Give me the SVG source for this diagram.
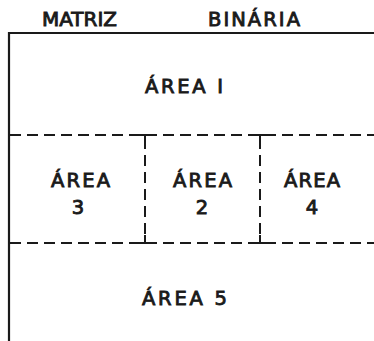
<svg xmlns="http://www.w3.org/2000/svg" width="374" height="341" viewBox="0 0 374 341">
  <style>
    .frame { fill: none; stroke: #1a1a1a; stroke-width: 2.2; }
    .dash { fill: none; stroke: #1a1a1a; stroke-width: 2; stroke-dasharray: 11 6; }
    .tick { fill: none; stroke: #1a1a1a; stroke-width: 2; }
    .lbl { font-family: "DejaVu Sans", "Liberation Sans", sans-serif; font-size: 19.5px; fill: #1a1a1a; stroke: #1a1a1a; stroke-width: 0.9; }
  </style>
  <rect width="374" height="341" fill="#ffffff"/>

  <!-- column headings -->
  <g id="headings">
    <text class="lbl" x="42" y="26" textLength="75" lengthAdjust="spacingAndGlyphs">MATRIZ</text>
    <text class="lbl" x="208" y="26" textLength="92" lengthAdjust="spacing">BINÁRIA</text>
  </g>

  <!-- outer frame and dashed partitions -->
  <g id="connectors">
    <path class="frame" d="M9,341 V33 H374"/>
    <line class="dash" x1="10" y1="135" x2="374" y2="135"/>
    <line class="dash" x1="10" y1="243" x2="374" y2="243"/>
    <line class="dash" x1="145" y1="138" x2="145" y2="240" stroke-dasharray="12 6"/>
    <line class="dash" x1="260" y1="138" x2="260" y2="240" stroke-dasharray="12 6"/>
    <line class="tick" x1="140" y1="135" x2="150" y2="135"/>
    <line class="tick" x1="140" y1="243" x2="150" y2="243"/>
    <line class="tick" x1="255" y1="135" x2="265" y2="135"/>
    <line class="tick" x1="255" y1="243" x2="265" y2="243"/>
    <line class="tick" x1="145" y1="135" x2="145" y2="143"/>
    <line class="tick" x1="145" y1="235" x2="145" y2="243"/>
    <line class="tick" x1="260" y1="135" x2="260" y2="143"/>
    <line class="tick" x1="260" y1="235" x2="260" y2="243"/>
  </g>

  <g id="area1">
    <text class="lbl" x="145" y="93" textLength="78" lengthAdjust="spacing">ÁREA I</text>
  </g>
  <g id="area3">
    <text class="lbl" x="51" y="187" textLength="59" lengthAdjust="spacing">ÁREA</text>
    <text class="lbl" x="78" y="214" text-anchor="middle">3</text>
  </g>
  <g id="area2">
    <text class="lbl" x="173" y="187" textLength="59" lengthAdjust="spacing">ÁREA</text>
    <text class="lbl" x="202" y="214" text-anchor="middle">2</text>
  </g>
  <g id="area4">
    <text class="lbl" x="284" y="187" textLength="56" lengthAdjust="spacing">ÁREA</text>
    <text class="lbl" x="312" y="214" text-anchor="middle">4</text>
  </g>
  <g id="area5">
    <text class="lbl" x="142" y="305" textLength="85" lengthAdjust="spacing">ÁREA 5</text>
  </g>
</svg>
